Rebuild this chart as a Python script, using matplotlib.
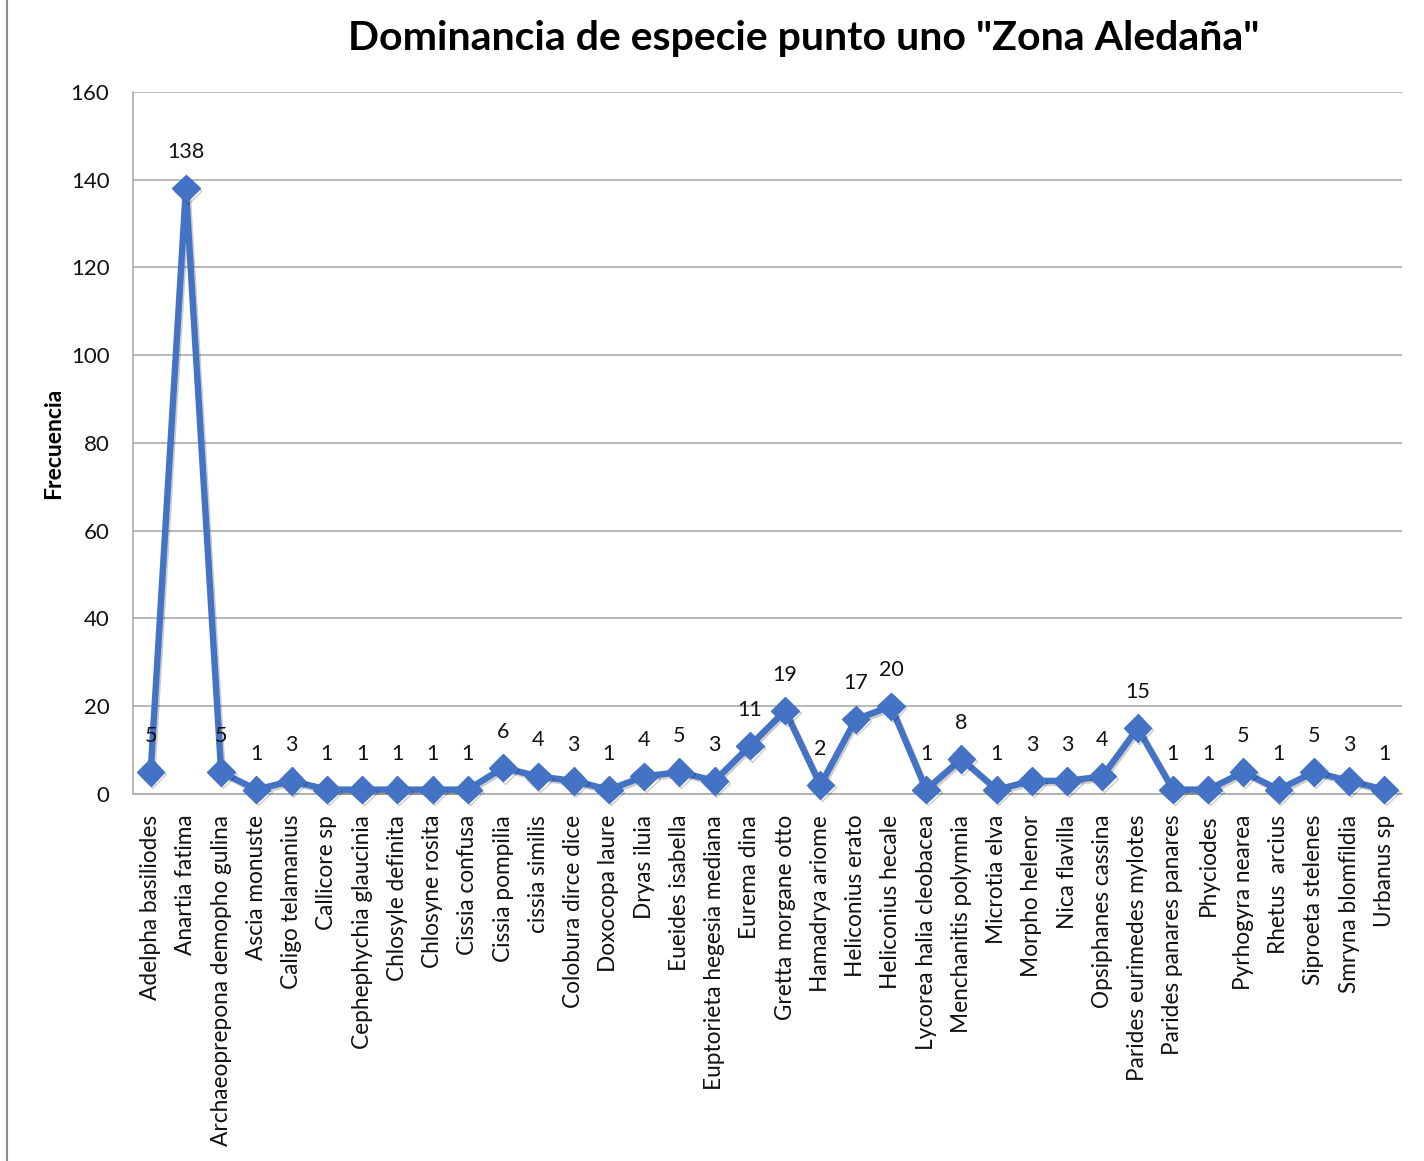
import matplotlib
matplotlib.use("Agg")
import matplotlib.pyplot as plt
import matplotlib.patheffects as pe

species = [
    "Adelpha basiliodes", "Anartia fatima", "Archaeoprepona demopho gulina",
    "Ascia monuste", "Caligo telamanius", "Callicore sp",
    "Cephephychia glaucinia", "Chlosyle definita", "Chlosyne rosita",
    "Cissia confusa", "Cissia pompilia", "cissia similis",
    "Colobura dirce dice", "Doxocopa laure", "Dryas iluia",
    "Eueides isabella", "Euptorieta hegesia mediana", "Eurema dina",
    "Gretta morgane otto", "Hamadrya ariome", "Heliconius erato",
    "Heliconius hecale", "Lycorea halia cleobacea", "Menchanitis polymnia",
    "Microtia elva", "Morpho helenor", "Nica flavilla",
    "Opsiphanes cassina", "Parides eurimedes mylotes", "Parides panares panares",
    "Phyciodes", "Pyrhogyra nearea", "Rhetus  arcius",
    "Siproeta stelenes", "Smryna blomfildia", "Urbanus sp",
]
frecuencia = [5, 138, 5, 1, 3, 1, 1, 1, 1, 1, 6, 4, 3, 1, 4, 5, 3, 11, 19, 2,
              17, 20, 1, 8, 1, 3, 3, 4, 15, 1, 1, 5, 1, 5, 3, 1]
yticks = [0, 20, 40, 60, 80, 100, 120, 140, 160]

plt.rcParams['font.family'] = ['Lato', 'DejaVu Sans']

fig = plt.figure(figsize=(14.24, 11.61), dpi=100)
ax = fig.add_axes([0.0934, 0.3161, 0.8912, 0.6047])

x = list(range(len(species)))
shadow = [pe.SimpleLineShadow(offset=(1.2, -1.5), alpha=0.2, shadow_color='k'), pe.Normal()]
ax.plot(x, frecuencia, color='#4472C4', lw=4.6, marker='D', ms=14,
        markerfacecolor='#4472C4', markeredgecolor='#4472C4',
        solid_joinstyle='round', path_effects=shadow, zorder=3, clip_on=False)

for xi, v in zip(x, frecuencia):
    ax.annotate(str(v), (xi, v), xytext=(0, 26), textcoords='offset points',
                ha='center', va='center', fontsize=15.5, color='#111111', zorder=4)

ax.set_xlim(-0.5, len(species) - 0.5)
ax.set_ylim(0, 160)
ax.set_yticks(yticks)
ax.set_xticks(x)
ax.set_xticklabels(species, rotation=90, fontsize=16.3, color='#111111')
ax.tick_params(axis='y', length=0, pad=17, labelsize=16, labelcolor='#111111')
ax.tick_params(axis='x', length=0, pad=15)
ax.grid(axis='y', color='#A6A6A6', lw=1.1)
ax.set_axisbelow(True)
for s in ['top', 'right']:
    ax.spines[s].set_visible(False)
for s in ['left', 'bottom']:
    ax.spines[s].set_color('#A6A6A6')
    ax.spines[s].set_linewidth(1.1)

ax.set_ylabel('Frecuencia', fontsize=16.5, fontweight='bold', labelpad=5)
fig.text(0.5645, 0.967, 'Dominancia de especie punto uno "Zona Aledaña"',
         ha='center', va='center', fontsize=29.5, fontweight='bold')

fig.add_artist(plt.Line2D([0.005, 0.005], [0, 1], color='#8C8C8C', lw=1.5,
                          transform=fig.transFigure))

fig.savefig('out.png', dpi=100, facecolor='white')
